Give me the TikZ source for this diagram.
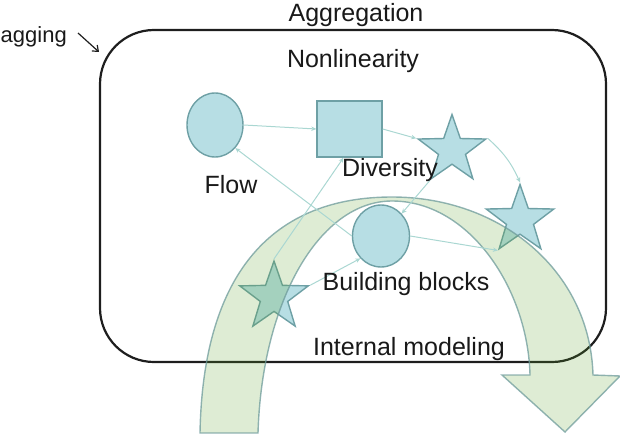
\documentclass[tikz,border=0pt]{standalone}
\usepackage{fontspec}
\setmainfont{Liberation Sans}
\usetikzlibrary{shapes.geometric,arrows.meta}
\definecolor{shfill}{RGB}{183,222,228}
\definecolor{shline}{RGB}{110,160,165}
\definecolor{conncol}{RGB}{170,215,210}
\definecolor{arrfill}{RGB}{90,160,40}
\definecolor{arrline}{RGB}{110,155,155}
\definecolor{boxline}{RGB}{30,30,30}
\definecolor{txt}{RGB}{25,25,25}
\begin{document}
\begin{tikzpicture}[x=1pt,y=-1pt,
  lbl/.style={font=\fontsize{25}{30}\selectfont, text=txt, inner sep=0pt, anchor=base},
  shp/.style={draw=shline, fill=shfill, line width=1.4pt, inner sep=0pt},
  circshp/.style={shp, ellipse},
  sqshp/.style={shp, rectangle},
  starshp/.style={shp, star, star points=5, star point ratio=2.5},
  cline/.style={draw=conncol, line width=1pt, -{Stealth[length=5pt,width=4.5pt]}},
  bigarrow/.style={fill=arrfill, fill opacity=0.2, draw=arrline, draw opacity=0.75, line width=1.4pt},
  agbox/.style={draw=boxline, line width=2.2pt, rounded corners=54pt, inner sep=0pt}
]
\useasboundingbox (0,0) rectangle (620,436);

% aggregation box
\node[agbox, minimum width=506pt, minimum height=332pt] (box) at (353,196) {};

% shapes behind the arrow
\node[circshp, minimum width=56pt, minimum height=64pt] (flow) at (215,125) {};
\node[sqshp, minimum width=65pt, minimum height=56pt] (sq) at (349.5,129) {};
\node[starshp, minimum size=71pt] (s1) at (452,150) {};
\node[starshp, minimum size=71pt] (s2) at (520,220) {};
\node[starshp, minimum size=72pt] (s3) at (274,297) {};

% big curved arrow
\filldraw[bigarrow] (200,433) .. controls (203,270) and (275,197) .. (392,197)
  .. controls (500,197) and (590,270) .. (593,375)
  -- (620,376) -- (565,432) -- (502,375) -- (530,375)
  .. controls (528,290) and (470,201) .. (392,201)
  .. controls (320,201) and (262,300) .. (258,433) -- cycle;

% building blocks circle in front
\node[circshp, minimum width=57pt, minimum height=62pt] (bb) at (381,236) {};

% connectors
\draw[cline] (flow.east) -- (sq.west);
\draw[cline] (sq.east) -- (s1.outer point 2);
\draw[cline] (s1.outer point 5) to[bend left=12] (s2.outer point 1);
\draw[cline] (bb.west) -- (flow.south east);
\draw[cline] (s3.outer point 1) -- ([xshift=-6pt]sq.south);
\draw[cline] (s3.outer point 5) -- (bb.south west);
\draw[cline] (bb.east) -- (s2.outer point 3);
\draw[cline] (s1.outer point 3) -- (bb.north east);

% tagging pointer
\coordinate (tagstart) at (78,33);
\coordinate (tagend) at (99,52);
\draw[line width=1.2pt, draw=boxline, -{Straight Barb[length=5pt,width=8pt]}] (tagstart) -- (tagend);

% labels
\node[lbl] (agg) at (356,22) {Aggregation};
\node[lbl] (nonlin) at (353,67) {Nonlinearity};
\node[lbl, anchor=base west, font=\fontsize{22}{26}\selectfont] (tag) at (0.5,42) {agging};
\node[lbl] (flowlbl) at (231,193) {Flow};
\node[lbl] (divlbl) at (390,176) {Diversity};
\node[lbl] (bblbl) at (406,290) {Building blocks};
\node[lbl] (intlbl) at (409,355) {Internal modeling};
\end{tikzpicture}
\end{document}
